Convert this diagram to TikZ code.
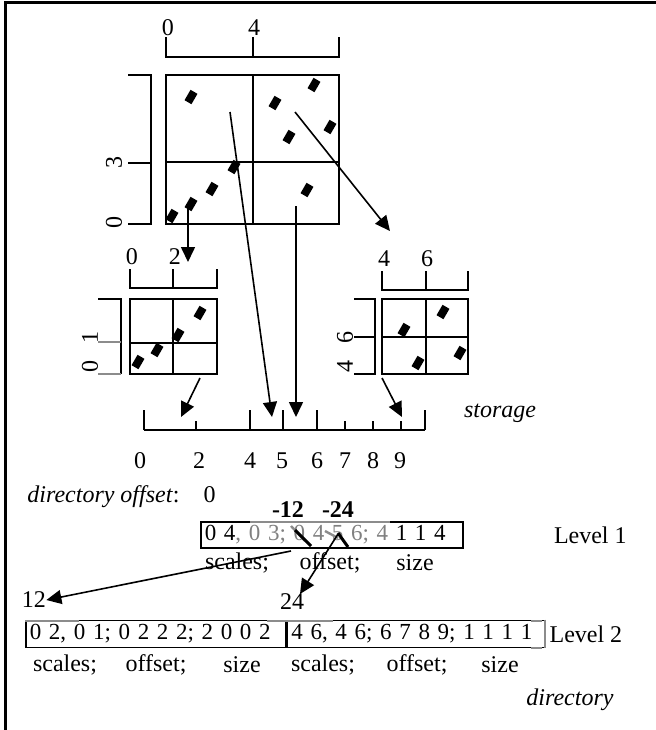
\documentclass[tikz,border=0pt]{standalone}
\usepackage{fontspec}
\setmainfont{Liberation Serif}
\usetikzlibrary{arrows.meta, positioning, calc}

\begin{document}
\begin{tikzpicture}[
    x=0.5pt, y=-0.5pt,
    font=\fontsize{12}{14}\selectfont,
    frame/.style={line width=1.5pt},
    grid/.style={line width=1pt},
    dot/.style={rectangle, fill=black, minimum width=4pt, minimum height=6pt, inner sep=0pt, rotate=-30},
    num/.style={inner sep=0pt},
    vnum/.style={num, rotate=90},
    ital/.style={num, font=\fontsize{12}{14}\selectfont\itshape},
    arrow/.style={-{Triangle[length=7.5pt, width=7pt]}, line width=0.8pt},
    lvlbox/.style={draw, line width=0.8pt, anchor=west, inner xsep=2pt, inner ysep=0pt, minimum height=13pt, align=left, font=\fontsize{11.5}{13}\selectfont},
    faint/.style={draw=black!45, line width=0.8pt}
]
\useasboundingbox (0,0) rectangle (656,730);

% Frame
\draw[frame] (5,730) -- (5,2) -- (656,2);

% Big grid
\draw[grid] (166,75) rectangle (339,224);
\draw[grid] (253,75) -- (253,224) (166,162) -- (339,162);
\draw[grid] (166,37) -- (166,57) -- (339,57) -- (339,37) (253,37) -- (253,57);
\node[num] (bx0) at (168,28) {0};
\node[num] (bx4) at (254,28) {4};
\draw[grid] (128,75) -- (151,75) -- (151,224) -- (128,224) (128,163) -- (151,163);
\node[vnum] (by0) at (114,222) {0};
\node[vnum] (by3) at (114,162) {3};
\foreach \x/\y [count=\i] in {191/97, 275/103, 314/85, 330/127, 289/137, 234/167, 212/189, 191/204, 172/216, 307/190}
    \node[dot] (bd\i) at (\x,\y) {};

% Small grid, left
\draw[grid] (130,299) rectangle (217,374);
\draw[grid] (173,299) -- (173,374) (130,343) -- (217,343);
\draw[grid] (130,269) -- (130,288) -- (217,288) -- (217,269) (173,269) -- (173,288);
\node[num] (lx0) at (132,257) {0};
\node[num] (lx2) at (175,257) {2};
\draw[grid] (98,299) -- (121,299) -- (121,374);
\draw[faint] (98,342) -- (121,342) (98,374) -- (121,374);
\node[vnum] (ly0) at (90,366) {0};
\node[vnum] (ly1) at (90,337) {1};
\foreach \x/\y [count=\i] in {200/313, 178/335, 157/350, 138/362}
    \node[dot] (ld\i) at (\x,\y) {};

% Small grid, right
\draw[grid] (382,299) rectangle (468,374);
\draw[grid] (426,299) -- (426,374) (382,337) -- (468,337);
\draw[grid] (382,271) -- (382,290) -- (468,290) -- (468,271) (426,271) -- (426,290);
\node[num] (rx4) at (384,259) {4};
\node[num] (rx6) at (427,259) {6};
\draw[grid] (354,299) -- (375,299) -- (375,374) -- (354,374) (354,337) -- (375,337);
\node[vnum] (ry4) at (345,366) {4};
\node[vnum] (ry6) at (345,337) {6};
\foreach \x/\y [count=\i] in {443/312, 404/330, 418/363, 460/353}
    \node[dot] (rd\i) at (\x,\y) {};

% Storage
\draw[grid] (144,430) -- (425,430);
\foreach \x/\h in {144/410, 196/421, 250/410, 283/410, 317/410, 345/421, 373/421, 401/421, 425/410}
    \draw[grid] (\x,430) -- (\x,\h);
\foreach \x/\t in {140/0, 199/2, 250/4, 282/5, 317/6, 345/7, 373/8, 400/9}
    \node[num] (st\t) at (\x,461) {\t};
\node[ital] (storage) at (500,413) {storage};

% Arrows into the grids and the storage
\coordinate (a1s) at (188,208); \coordinate (a1e) at (188,262);
\coordinate (a2s) at (230,112); \coordinate (a2e) at (272,417);
\coordinate (a3s) at (296,206); \coordinate (a3e) at (296,417);
\coordinate (a4s) at (295,112); \coordinate (a4e) at (390,231);
\coordinate (a5s) at (200,378); \coordinate (a5e) at (181,417);
\coordinate (a6s) at (382,378); \coordinate (a6e) at (402,417);
\foreach \i in {1,...,6}
    \draw[arrow] (a\i s) -- (a\i e);

% Directory, level 1
\node[num, anchor=west] (doff) at (27,497) {\textit{directory offset}:\quad 0};
\node[num] (m12) at (288,510) {\textbf{-12}};
\node[num] (m24) at (338,510) {\textbf{-24}};
\node[lvlbox, text width=127pt] (lvl1) at (200,535) {\mbox{0 4\textcolor{black!50}{, 0 3; 0 4 5 6; 4} 1 1 4}};
\draw[faint] (250,522) -- (390,522);
\node[num, right=45pt of lvl1] (lev1) {Level 1};
\node[num] (sc1) at (237,563) {scales;};
\node[num] (of1) at (330,563) {offset;};
\node[num] (sz1) at (415,563) {size};

% Pointers
\draw[faint, line width=1.2pt] (291,526) -- (305,541);
\draw[line width=1.5pt] (295,530) -- (311,546);
\draw[faint, line width=1.2pt] (325,531) -- (338,538);
\draw[line width=1.5pt] (338,533) -- (348,547);
\node[num] (n12) at (34,600) {12};
\node[num] (n24) at (292,602) {24};
\coordinate (p12) at (291,551);
\coordinate (p24) at (338,534);
\coordinate (t24) at (300,594);
\draw[arrow] (p12) -- (n12.east);
\draw[arrow] (p24) -- (t24);

% Directory, level 2
\node[lvlbox, text width=126pt, minimum height=13.5pt] (lvl2a) at (25,634) {\mbox{0 2, 0 1; 0 2 2 2; 2 0 0 2}};
\node[lvlbox, text width=124.5pt, minimum height=13.5pt] (lvl2b) at (lvl2a.east) {\mbox{4 6, 4 6; 6 7 8 9; 1 1 1 1}};
\draw[faint] (25,621) -- (79,621) (267,621) -- (333,621) (531,621) -- (542,621);
\draw[faint] (lvl2b.north east) -- (lvl2b.south east) (531,648) -- (542,648);
\node[num, right=2pt of lvl2b] (lev2) {Level 2};
\foreach \x/\t [count=\i] in {65/scales;, 156/offset;, 242/size, 323/scales;, 417/offset;, 500/size}
    \node[num] (f2\i) at (\x,665) {\t};

\node[ital] (dir) at (570,700) {directory};

\end{tikzpicture}
\end{document}
